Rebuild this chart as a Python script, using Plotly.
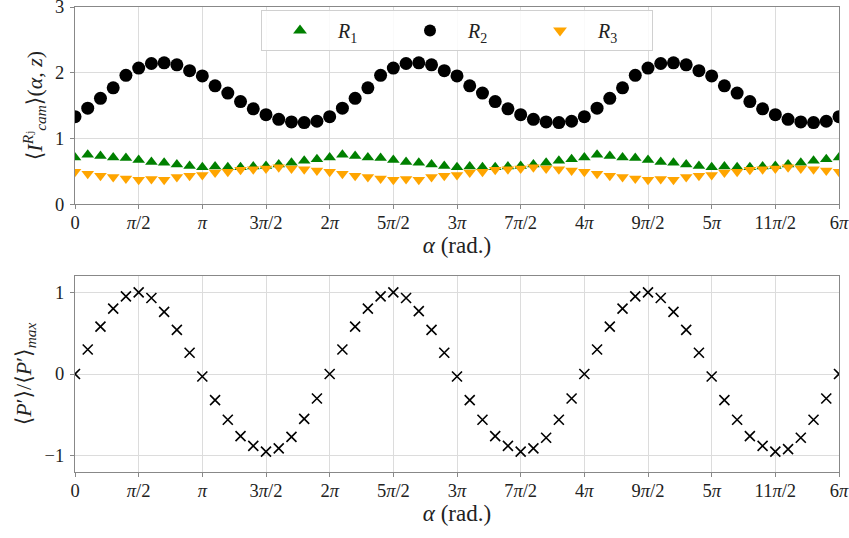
import numpy as np
import plotly.graph_objects as go

# alpha grid in units of pi (step pi/10 from 0 to 6pi)
alpha_over_pi = [k / 10 for k in range(61)]

R1 = [0.71, 0.75, 0.73, 0.71, 0.70, 0.67, 0.64, 0.63, 0.60, 0.58,
      0.56, 0.57, 0.56, 0.56, 0.57, 0.58, 0.60, 0.63, 0.66, 0.68,
      0.71, 0.75, 0.73, 0.71, 0.70, 0.67, 0.64, 0.63, 0.60, 0.58,
      0.56, 0.57, 0.56, 0.56, 0.57, 0.58, 0.60, 0.63, 0.66, 0.68,
      0.71, 0.75, 0.73, 0.71, 0.70, 0.67, 0.64, 0.63, 0.60, 0.58,
      0.56, 0.57, 0.56, 0.56, 0.57, 0.58, 0.60, 0.63, 0.66, 0.68,
      0.71]
R2 = [1.33, 1.46, 1.61, 1.77, 1.96, 2.07, 2.14, 2.15, 2.12, 2.03,
      1.95, 1.80, 1.69, 1.56, 1.45, 1.36, 1.29, 1.25, 1.24, 1.26,
      1.33, 1.46, 1.61, 1.77, 1.96, 2.07, 2.14, 2.15, 2.12, 2.03,
      1.95, 1.80, 1.69, 1.56, 1.45, 1.36, 1.29, 1.25, 1.24, 1.26,
      1.33, 1.46, 1.61, 1.77, 1.96, 2.07, 2.14, 2.15, 2.12, 2.03,
      1.95, 1.80, 1.69, 1.56, 1.45, 1.36, 1.29, 1.25, 1.24, 1.26,
      1.33]
R3 = [0.49, 0.46, 0.43, 0.41, 0.39, 0.37, 0.38, 0.37, 0.41, 0.43,
      0.44, 0.48, 0.49, 0.52, 0.53, 0.54, 0.56, 0.54, 0.53, 0.51,
      0.49, 0.46, 0.43, 0.41, 0.39, 0.37, 0.38, 0.37, 0.41, 0.43,
      0.44, 0.48, 0.49, 0.52, 0.53, 0.54, 0.56, 0.54, 0.53, 0.51,
      0.49, 0.46, 0.43, 0.41, 0.39, 0.37, 0.38, 0.37, 0.41, 0.43,
      0.44, 0.48, 0.49, 0.52, 0.53, 0.54, 0.56, 0.54, 0.53, 0.51,
      0.49]
P_norm = [0.00, 0.30, 0.58, 0.80, 0.95, 1.00, 0.93, 0.76, 0.54, 0.26,
          -0.03, -0.32, -0.56, -0.76, -0.88, -0.95, -0.91, -0.77, -0.55, -0.30,
          0.00, 0.30, 0.58, 0.80, 0.95, 1.00, 0.93, 0.77, 0.54, 0.26,
          -0.03, -0.32, -0.56, -0.76, -0.88, -0.95, -0.91, -0.78, -0.56, -0.30,
          0.00, 0.30, 0.58, 0.80, 0.95, 1.00, 0.93, 0.76, 0.54, 0.26,
          -0.03, -0.32, -0.56, -0.76, -0.88, -0.95, -0.92, -0.78, -0.56, -0.30,
          0.00]

tick_mult = [k / 2 for k in range(13)]
tick_labels = ["0", "<i>π</i>/2", "<i>π</i>", "3<i>π</i>/2", "2<i>π</i>", "5<i>π</i>/2",
               "3<i>π</i>", "7<i>π</i>/2", "4<i>π</i>", "9<i>π</i>/2", "5<i>π</i>",
               "11<i>π</i>/2", "6<i>π</i>"]

alpha = np.array(alpha_over_pi) * np.pi
tickvals = np.array(tick_mult) * np.pi

FONT = "Liberation Serif, DejaVu Serif, serif"
TXT = "#222"
fig = go.Figure()
fig.add_trace(go.Scatter(x=alpha, y=R1, mode="markers", name="<i>R</i><sub>1</sub>",
                         marker=dict(symbol="triangle-up", size=11, color="green"),
                         xaxis="x", yaxis="y"))
fig.add_trace(go.Scatter(x=alpha, y=R2, mode="markers", name="<i>R</i><sub>2</sub>",
                         marker=dict(symbol="circle", size=13, color="black"),
                         xaxis="x", yaxis="y"))
fig.add_trace(go.Scatter(x=alpha, y=R3, mode="markers", name="<i>R</i><sub>3</sub>",
                         marker=dict(symbol="triangle-down", size=11, color="orange"),
                         xaxis="x", yaxis="y"))
fig.add_trace(go.Scatter(x=alpha, y=P_norm, mode="markers", showlegend=False,
                         marker=dict(symbol="x-thin", size=10, color="black",
                                     line=dict(width=1.6, color="black")),
                         xaxis="x2", yaxis="y2"))

axis_common = dict(showline=True, mirror=True, linecolor="#888", linewidth=1,
                   showgrid=True, gridcolor="#dcdcdc", gridwidth=1,
                   ticks="outside", ticklen=4, tickcolor="#888",
                   automargin=False, ticklabeloverflow="allow",
                   zeroline=False, tickfont=dict(family=FONT, size=18.5, color=TXT))

xcommon = dict(axis_common, tickmode="array", tickvals=tickvals, ticktext=tick_labels,
               range=[0, 6 * np.pi], ticklabelstandoff=-2,
               title=dict(text="<i>α</i> (rad.)", font=dict(family=FONT, size=23, color=TXT),
                          standoff=0))

fig.update_layout(
    width=849, height=538,
    margin=dict(l=75, r=10, t=7, b=66),
    paper_bgcolor="white", plot_bgcolor="white",
    font=dict(family=FONT, size=18, color=TXT),
    xaxis=dict(xcommon, domain=[0, 1], anchor="y"),
    yaxis=dict(axis_common, domain=[0.5763, 1], anchor="x", range=[0, 3],
               tickvals=[0, 1, 2, 3], ticklabelstandoff=2,
               title=dict(text="⟨<i>I</i><sup><i>R</i>ⱼ</sup><sub><i>cam</i></sub>⟩(<i>α</i>, <i>z</i>)",
                          font=dict(family=FONT, size=22, color=TXT), standoff=6)),
    xaxis2=dict(xcommon, domain=[0, 1], anchor="y2"),
    yaxis2=dict(axis_common, domain=[0, 0.4215], anchor="x2", range=[-1.2, 1.2],
                tickvals=[-1, 0, 1], ticktext=["−1", "0", "1"], ticklabelstandoff=2,
                title=dict(text="⟨<i>P</i>′⟩/⟨<i>P</i>′⟩<sub><i>max</i></sub>",
                           font=dict(family=FONT, size=22, color=TXT), standoff=6)),
    legend=dict(orientation="h", x=0.5, xanchor="center", y=0.9935, yanchor="top",
                bgcolor="rgba(255,255,255,0.85)", bordercolor="#d0d0d0", borderwidth=1,
                entrywidth=49, entrywidthmode="pixels", itemwidth=66,
                font=dict(family=FONT, size=20, color=TXT), itemsizing="constant"),
    showlegend=True,
)

fig.write_html("out.html", config={"displayModeBar": False},
               post_script="document.body.style.margin='0';document.body.style.overflow='hidden';")
